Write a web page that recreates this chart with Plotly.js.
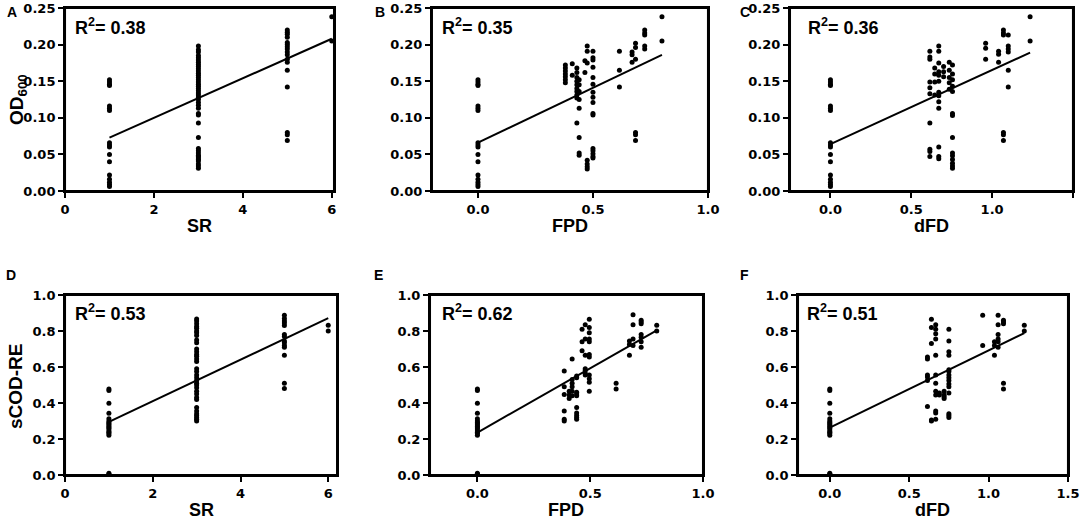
<!DOCTYPE html>
<html>
<head>
<meta charset="utf-8">
<script src="https://cdn.plot.ly/plotly-3.0.1.min.js"></script>
</head>
<body style="margin:0">
<div id="chart"></div>
<script>
// columns: [x, [y values]]
const odLow = [0.152,0.149,0.146,0.144,0.116,0.113,0.110,0.066,0.063,0.060,0.050,0.040,0.022,0.016,0.012,0.009,0.006];
const codLow = [0.478,0.469,0.398,0.343,0.313,0.300,0.291,0.285,0.278,0.270,0.263,0.255,0.245,0.238,0.230,0.221,0.010,0.005];

const odSR = [
  [1, odLow],
  [3, [0.198,0.193,0.190,0.185,0.182,0.179,0.176,0.173,0.170,0.167,0.164,0.161,0.158,0.155,0.152,0.149,0.146,0.143,0.140,0.137,0.134,0.131,0.128,0.125,0.121,0.117,0.113,0.106,0.104,0.093,0.073,0.058,0.055,0.052,0.049,0.047,0.045,0.043,0.041,0.037,0.034,0.031]],
  [5, [0.220,0.217,0.214,0.210,0.203,0.200,0.197,0.194,0.190,0.186,0.180,0.176,0.165,0.142,0.080,0.077,0.069]],
  [6, [0.238,0.205]]
];
const odFPD = [
  [0, odLow],
  [0.38, [0.172,0.168,0.164,0.160,0.156,0.152,0.148]],
  [0.41, [0.174,0.158]],
  [0.43, [0.168,0.162,0.155,0.150,0.145,0.140,0.136,0.131,0.127,0.093]],
  [0.44, [0.152,0.145,0.136,0.125,0.113,0.073,0.052,0.049]],
  [0.465, [0.178,0.162]],
  [0.475, [0.198,0.191,0.175,0.042,0.037,0.033,0.030]],
  [0.5, [0.191,0.182,0.179,0.169,0.155,0.146,0.135,0.128,0.121,0.106,0.104,0.058,0.055,0.051,0.047,0.045]],
  [0.615, [0.191,0.165,0.142]],
  [0.67, [0.190,0.186,0.176]],
  [0.685, [0.202,0.196,0.180,0.080,0.077,0.069]],
  [0.725, [0.220,0.216,0.213,0.198,0.194]],
  [0.8, [0.238,0.205]]
];
const odDFD = [
  [0, odLow],
  [0.615, [0.191,0.183,0.180,0.149,0.141,0.133,0.093,0.057,0.054,0.047]],
  [0.645, [0.168,0.160,0.149,0.131]],
  [0.67, [0.198,0.191,0.175,0.163,0.158,0.150,0.135,0.130,0.122,0.113,0.060,0.047,0.044]],
  [0.70, [0.170,0.163,0.156]],
  [0.735, [0.176,0.165,0.155,0.148,0.139]],
  [0.755, [0.172,0.160,0.152,0.143,0.136,0.106,0.103,0.073,0.052,0.048,0.043,0.038,0.034,0.031]],
  [0.96, [0.202,0.195,0.180]],
  [1.04, [0.191,0.187,0.176]],
  [1.07, [0.220,0.216,0.213,0.080,0.077,0.069]],
  [1.10, [0.213,0.198,0.194,0.190,0.165,0.142]],
  [1.235, [0.238,0.205]]
];
const codSR = [
  [1, codLow],
  [3, [0.866,0.855,0.840,0.825,0.815,0.800,0.790,0.775,0.750,0.735,0.700,0.685,0.670,0.660,0.645,0.630,0.590,0.575,0.555,0.540,0.525,0.510,0.500,0.485,0.465,0.450,0.430,0.420,0.375,0.355,0.340,0.330,0.320,0.310,0.300]],
  [5, [0.888,0.870,0.855,0.845,0.830,0.780,0.770,0.745,0.735,0.720,0.710,0.665,0.510,0.480]],
  [6, [0.832,0.800]]
];
const codFPD = [
  [0, codLow],
  [0.385, [0.578,0.490,0.447,0.355,0.310,0.300]],
  [0.407, [0.465,0.445,0.425]],
  [0.42, [0.645,0.530,0.510,0.490,0.465,0.440]],
  [0.44, [0.550,0.540,0.460,0.450,0.440,0.375,0.345,0.330,0.320,0.310]],
  [0.464, [0.810,0.740,0.690]],
  [0.478, [0.835,0.755,0.665,0.590,0.580,0.565,0.555]],
  [0.496, [0.865,0.820,0.790,0.755,0.740,0.670,0.655,0.555,0.535,0.515,0.465]],
  [0.615, [0.510,0.478]],
  [0.674, [0.745,0.725,0.665]],
  [0.69, [0.890,0.835,0.755,0.720]],
  [0.726, [0.860,0.850,0.840,0.780,0.765,0.740,0.710]],
  [0.795, [0.832,0.800]]
];
const codDFD = [
  [0, codLow],
  [0.615, [0.655,0.645,0.555,0.545,0.525,0.380]],
  [0.64, [0.865,0.820,0.730,0.305,0.300]],
  [0.667, [0.835,0.810,0.785,0.755,0.665,0.555,0.510,0.465,0.445,0.355,0.345,0.310]],
  [0.69, [0.455,0.445]],
  [0.72, [0.465,0.445,0.435,0.425]],
  [0.75, [0.810,0.745,0.685,0.665,0.585,0.575,0.555,0.540,0.525,0.505,0.490,0.455,0.340,0.330,0.320]],
  [0.963, [0.888,0.720]],
  [1.037, [0.740,0.720,0.665]],
  [1.06, [0.888,0.835,0.780,0.755,0.740,0.710]],
  [1.094, [0.860,0.850,0.840,0.510,0.478]],
  [1.225, [0.832,0.800]]
];

// fitted lines (end points)
const fitA = {x: [1, 6], y: [0.073, 0.208]};
const fitB = {x: [0, 0.8], y: [0.066, 0.186]};
const fitC = {x: [0, 1.235], y: [0.064, 0.189]};
const fitD = {x: [1, 6], y: [0.295, 0.871]};
const fitE = {x: [0, 0.795], y: [0.236, 0.803]};
const fitF = {x: [0, 1.225], y: [0.263, 0.788]};

const r2 = ['0.38', '0.35', '0.36', '0.53', '0.62', '0.51'];
const letters = ['A', 'B', 'C', 'D', 'E', 'F'];
const xNames = ['SR', 'FPD', 'dFD', 'SR', 'FPD', 'dFD'];

function flat(groups){
  const x = [], y = [];
  groups.forEach(g => g[1].forEach(v => { x.push(g[0]); y.push(v); }));
  return {x, y};
}

const panels = [
  {d: odSR,   fit: fitA, xd: [0.0600, 0.3081], yd: [0.6334, 0.9846], xr: [0, 6.05],    yr: [0, 0.25], dx: 2,   fx: 'd',   fy: '.2f', dy: 0.05, r2x: 0.03,  lx: 12,  ly: 12},
  {d: odFPD,  fit: fitB, xd: [0.3985, 0.6531], yd: [0.6334, 0.9846], xr: [-0.2, 1.0],  yr: [0, 0.25], dx: 0.5, fx: '.1f', fy: '.2f', dy: 0.05, r2x: 0.029, lx: 380, ly: 12},
  {d: odDFD,  fit: fitC, xd: [0.7288, 0.9898], yd: [0.6334, 0.9846], xr: [-0.25, 1.5], yr: [0, 0.25], dx: 0.5, fx: '.1f', fy: '.2f', dy: 0.05, r2x: 0.057, lx: 745, ly: 12},
  {d: codSR,  fit: fitD, xd: [0.0600, 0.3109], yd: [0.0883, 0.4338], xr: [0, 6.2],     yr: [0, 1.0],  dx: 2,   fx: 'd',   fy: '.1f', dy: 0.2,  r2x: 0.03,  lx: 11,  ly: 275},
  {d: codFPD, fit: fitE, xd: [0.3967, 0.6485], yd: [0.0883, 0.4338], xr: [-0.21, 1.0], yr: [0, 1.0],  dx: 0.5, fx: '.1f', fy: '.1f', dy: 0.2,  r2x: 0.037, lx: 378, ly: 275},
  {d: codDFD, fit: fitF, xd: [0.7362, 0.9852], yd: [0.0883, 0.4338], xr: [-0.2, 1.5],  yr: [0, 1.0],  dx: 0.5, fx: '.1f', fy: '.1f', dy: 0.2,  r2x: 0.026, lx: 744, ly: 275}
];

const W = 1084, H = 521;

function bold(size){
  return {family: 'Liberation Sans', size: size, color: '#000', weight: 700};
}
function makeAxis(extra){
  return Object.assign({showline: true, linecolor: '#000', linewidth: 2, mirror: true, showgrid: false, zeroline: false,
    ticks: 'outside', ticklen: 5, tickwidth: 2, tickcolor: '#000',
    tickfont: {family: 'DejaVu Sans', size: 13, color: '#000', weight: 700}, fixedrange: true}, extra);
}

const traces = [];
const layout = {
  width: W, height: H,
  margin: {l: 0, r: 0, t: 0, b: 0},
  showlegend: false,
  annotations: [],
  shapes: []
};

panels.forEach((p, i) => {
  const n = i === 0 ? '' : String(i + 1);
  const xa = 'x' + n, ya = 'y' + n;
  const pts = flat(p.d);
  traces.push({type: 'scatter', mode: 'markers', x: pts.x, y: pts.y, xaxis: xa, yaxis: ya,
    marker: {color: '#000', size: 5}, cliponaxis: false});
  traces.push({type: 'scatter', mode: 'lines', x: p.fit.x, y: p.fit.y, xaxis: xa, yaxis: ya,
    line: {color: '#000', width: 2}});

  layout['xaxis' + n] = makeAxis({domain: p.xd, range: p.xr, anchor: ya, dtick: p.dx, tick0: 0, tickformat: p.fx});
  layout['yaxis' + n] = makeAxis({domain: p.yd, range: p.yr, anchor: xa, dtick: p.dy, tick0: 0, tickformat: p.fy});

  // frame of each panel
  layout.shapes.push({type: 'rect', xref: xa + ' domain', yref: ya + ' domain', x0: 0, x1: 1, y0: 0, y1: 1,
    line: {color: '#000', width: 2}, layer: 'above'});

  layout.annotations.push({xref: xa + ' domain', yref: ya + ' domain', x: p.r2x, y: 0.9, xanchor: 'left', yanchor: 'middle',
    text: 'R<sup>2</sup>= ' + r2[i], showarrow: false, font: bold(18)});
  layout.annotations.push({xref: 'paper', yref: 'paper', x: p.lx / W, y: 1 - p.ly / H, xanchor: 'center', yanchor: 'middle',
    text: letters[i], showarrow: false, font: bold(14)});
  const titleY = i < 3 ? 226 : 510;
  layout.annotations.push({xref: xa + ' domain', yref: 'paper', x: 0.5, y: 1 - titleY / H, xanchor: 'center', yanchor: 'middle',
    text: xNames[i], showarrow: false, font: bold(18)});
});

// y axis titles
layout.annotations.push({xref: 'paper', yref: 'paper', x: 18 / W, y: 1 - 100 / H, textangle: -90, xanchor: 'center', yanchor: 'middle',
  text: 'OD<sub>600</sub>', showarrow: false, font: bold(19)});
layout.annotations.push({xref: 'paper', yref: 'paper', x: 15 / W, y: 1 - 386 / H, textangle: -90, xanchor: 'center', yanchor: 'middle',
  text: 'sCOD-RE', showarrow: false, font: bold(19)});

Plotly.newPlot('chart', traces, layout, {displayModeBar: false, staticPlot: true}).then(gd => {
  if (!gd.querySelector('path.xtick')) Plotly.react(gd, traces, layout, {displayModeBar: false, staticPlot: true});
});
</script>
</body>
</html>
